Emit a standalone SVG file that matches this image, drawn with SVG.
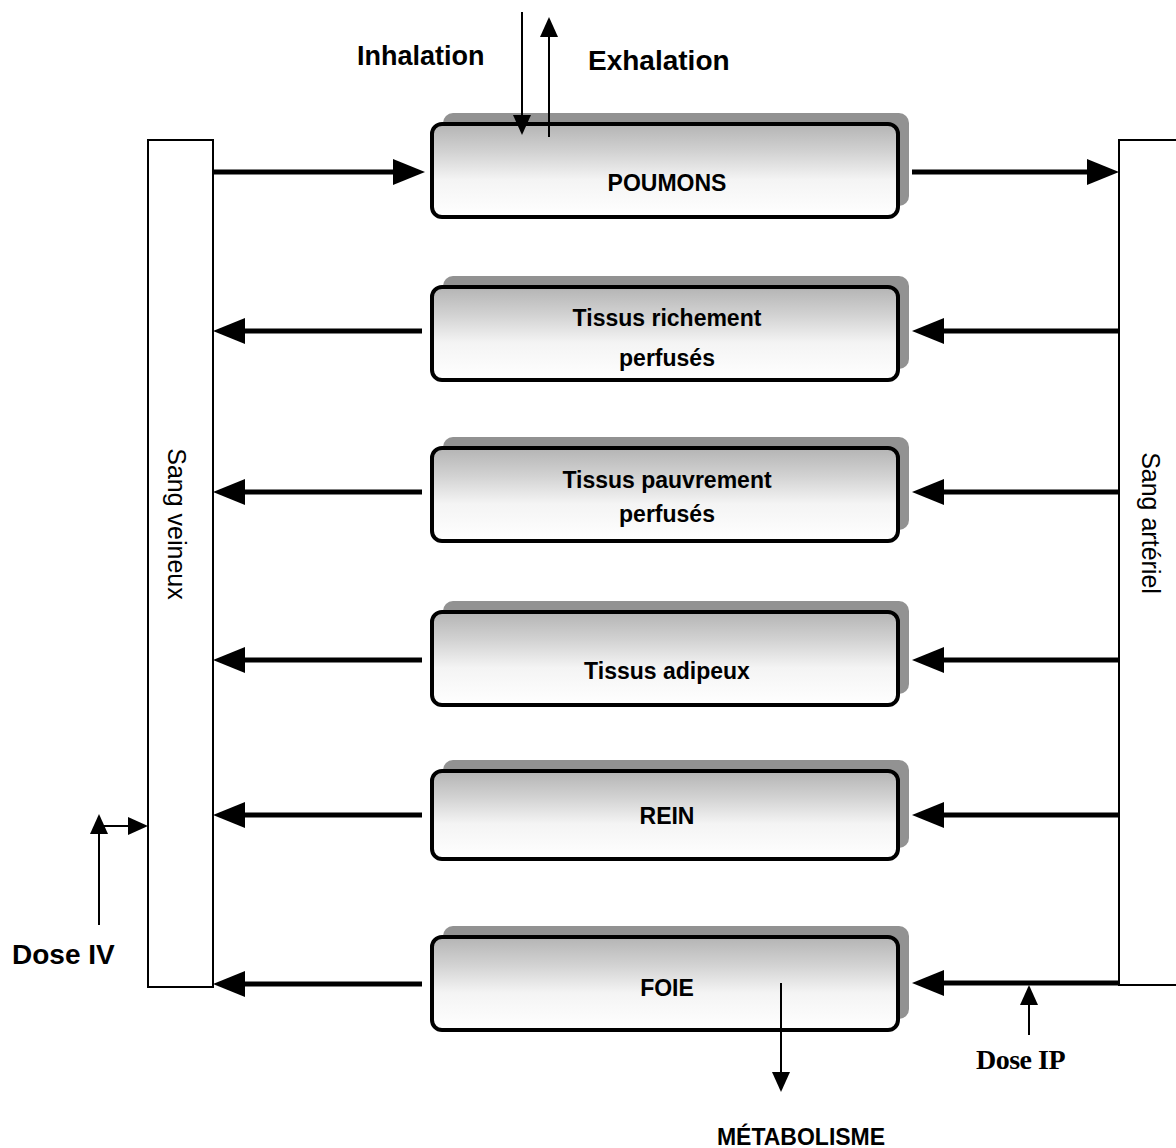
<svg xmlns="http://www.w3.org/2000/svg" width="1176" height="1148" viewBox="0 0 1176 1148">
<style>
.lbl{font-family:"Liberation Sans",Arial,sans-serif;font-weight:bold;fill:#000}
.box{font-family:"Liberation Sans",Arial,sans-serif;font-weight:bold;font-size:23px;text-anchor:middle;fill:#000}
.vert{font-family:"Liberation Sans",Arial,sans-serif;font-size:25px;text-anchor:middle;fill:#000}
.main{fill:url(#g);stroke:#000;stroke-width:4}
.shadow{fill:#929292}
.thick{stroke:#000;stroke-width:5;fill:none}
.thin{stroke:#000;stroke-width:2;fill:none}
.col{fill:#fff;stroke:#000;stroke-width:2}
</style>
<defs>
<linearGradient id="g" x1="0" y1="0" x2="0" y2="1">
<stop offset="0" stop-color="#b4b4b4"/>
<stop offset="0.3" stop-color="#d2d2d2"/>
<stop offset="0.6" stop-color="#f4f4f4"/>
<stop offset="1" stop-color="#ffffff"/>
</linearGradient>
<marker id="big" markerUnits="userSpaceOnUse" markerWidth="32" markerHeight="26" refX="22" refY="13" orient="auto">
<path d="M0,0 L32,13 L0,26 z" fill="#000"/>
</marker>
<marker id="small" markerUnits="userSpaceOnUse" markerWidth="20" markerHeight="18" refX="14" refY="9" orient="auto">
<path d="M0,0 L20,9 L0,18 z" fill="#000"/>
</marker>
</defs>
<rect width="1176" height="1148" fill="#fff"/>

<g id="sang-veineux">
<rect class="col" x="148" y="140" width="65" height="847"/>
<text class="vert" transform="translate(168,524) rotate(90)">Sang veineux</text>
</g>
<g id="sang-arteriel">
<rect class="col" x="1119" y="140" width="80" height="845"/>
<text class="vert" transform="translate(1142,523) rotate(90)">Sang artériel</text>
</g>

<g id="poumons">
<rect class="shadow" x="443" y="113" width="466" height="93" rx="10"/>
<rect class="main" x="432" y="124" width="466" height="93" rx="10"/>
<text class="box" x="667" y="191">POUMONS</text>
</g>
<g id="tissus-riches">
<rect class="shadow" x="443" y="276" width="466" height="93" rx="10"/>
<rect class="main" x="432" y="287" width="466" height="93" rx="10"/>
<text class="box" x="667" y="326">Tissus richement</text>
<text class="box" x="667" y="366">perfusés</text>
</g>
<g id="tissus-pauvres">
<rect class="shadow" x="443" y="437" width="466" height="93" rx="10"/>
<rect class="main" x="432" y="448" width="466" height="93" rx="10"/>
<text class="box" x="667" y="488">Tissus pauvrement</text>
<text class="box" x="667" y="522">perfusés</text>
</g>
<g id="tissus-adipeux">
<rect class="shadow" x="443" y="601" width="466" height="93" rx="10"/>
<rect class="main" x="432" y="612" width="466" height="93" rx="10"/>
<text class="box" x="667" y="679">Tissus adipeux</text>
</g>
<g id="rein">
<rect class="shadow" x="443" y="760" width="466" height="88" rx="10"/>
<rect class="main" x="432" y="771" width="466" height="88" rx="10"/>
<text class="box" x="667" y="824">REIN</text>
</g>
<g id="foie">
<rect class="shadow" x="443" y="926" width="466" height="93" rx="10"/>
<rect class="main" x="432" y="937" width="466" height="93" rx="10"/>
<text class="box" x="667" y="996">FOIE</text>
</g>

<g id="connectors">
<line class="thick" x1="213" y1="172" x2="415" y2="172" marker-end="url(#big)"/>
<line class="thick" x1="912" y1="172" x2="1109" y2="172" marker-end="url(#big)"/>

<line class="thick" x1="1119" y1="331" x2="922" y2="331" marker-end="url(#big)"/>
<line class="thick" x1="1119" y1="492" x2="922" y2="492" marker-end="url(#big)"/>
<line class="thick" x1="1119" y1="660" x2="922" y2="660" marker-end="url(#big)"/>
<line class="thick" x1="1119" y1="815" x2="922" y2="815" marker-end="url(#big)"/>
<line class="thick" x1="1119" y1="983" x2="922" y2="983" marker-end="url(#big)"/>

<line class="thick" x1="422" y1="331" x2="223" y2="331" marker-end="url(#big)"/>
<line class="thick" x1="422" y1="492" x2="223" y2="492" marker-end="url(#big)"/>
<line class="thick" x1="422" y1="660" x2="223" y2="660" marker-end="url(#big)"/>
<line class="thick" x1="422" y1="815" x2="223" y2="815" marker-end="url(#big)"/>
<line class="thick" x1="422" y1="984" x2="223" y2="984" marker-end="url(#big)"/>

<line class="thin" x1="522" y1="12" x2="522" y2="129" marker-end="url(#small)"/>
<line class="thin" x1="549" y1="137" x2="549" y2="23" marker-end="url(#small)"/>

<line class="thin" x1="99" y1="925" x2="99" y2="820" marker-end="url(#small)"/>
<line class="thin" x1="99" y1="826" x2="142" y2="826" marker-end="url(#small)"/>
<line class="thin" x1="1029" y1="1035" x2="1029" y2="991" marker-end="url(#small)"/>
<line class="thin" x1="781" y1="983" x2="781" y2="1086" marker-end="url(#small)"/>
</g>

<text class="lbl" x="357" y="65" font-size="27">Inhalation</text>
<text class="lbl" x="588" y="70" font-size="28">Exhalation</text>
<text class="lbl" x="12" y="964" font-size="28">Dose IV</text>
<text x="976" y="1069" font-family="'Liberation Serif','Times New Roman',serif" font-weight="bold" font-size="28" letter-spacing="-0.5">Dose IP</text>
<text class="lbl" x="801" y="1145" font-size="23" text-anchor="middle">MÉTABOLISME</text>
</svg>
